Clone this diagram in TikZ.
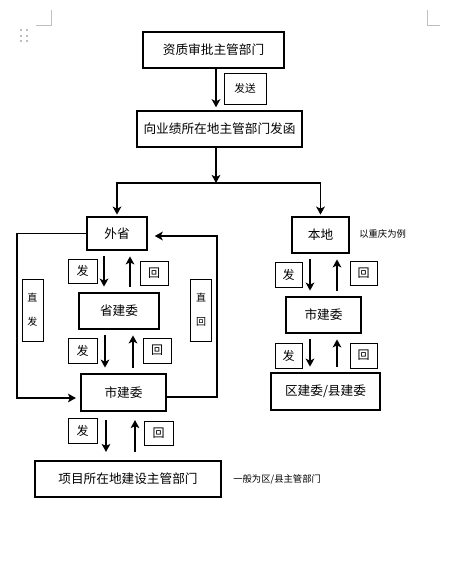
\documentclass[tikz,border=0pt]{standalone}
\usepackage{fontspec}
\setmainfont{Noto Sans CJK SC}
\usetikzlibrary{arrows.meta}
\definecolor{markgray}{RGB}{190,190,190}

\begin{document}
\begin{tikzpicture}[
    x=0.75pt, y=-0.75pt,
    box/.style 2 args={rectangle, draw, line width=1.6pt, inner sep=0pt,
                minimum width=#1*0.75pt, minimum height=#2*0.75pt,
                font=\fontsize{9.5}{11}\selectfont},
    tag/.style 2 args={rectangle, draw, line width=0.6pt, inner sep=0pt,
                minimum width=#1*0.75pt, minimum height=#2*0.75pt,
                font=\fontsize{9}{10}\selectfont},
    vtag/.style={tag={21}{62}, align=center,
                font=\fontsize{7.5}{18}\selectfont},
    note/.style={anchor=west, inner sep=0pt, font=\fontsize{7}{8}\selectfont},
    arr/.style={-{Stealth[length=6pt, width=6.5pt, inset=1.5pt]}, line width=1.3pt},
    pair/.style={arr, shorten <=4pt, shorten >=4pt}
]
\useasboundingbox (0,0) rectangle (455,561);

% page marks
\draw[markgray, line width=0.6pt] (36,25) -- (51,25) -- (51,10);
\draw[markgray, line width=0.6pt] (427,10) -- (427,25) -- (440,25);
\foreach \dx in {21,26.5}
  \foreach \dy in {30,35.5,41}
    \fill[markgray] (\dx-1,\dy-1) rectangle (\dx+1,\dy+1);

% Top chain
\node[box={141}{36}] (resp) at (213.5,50) {资质审批主管部门};
\node[tag={42}{31}, font=\fontsize{8}{9}\selectfont] (send) at (245,88.5) {发送};
\node[box={165}{36}] (letter) at (219.5,129) {向业绩所在地主管部门发函};
\coordinate (split) at (216,183);

% Left branch: other province
\node[box={60}{33}] (ws) at (117,233.5) {外省};
\node[box={80}{36}] (sjw) at (119,311) {省建委};
\node[box={85}{37}] (cjwL) at (123.5,392.5) {市建委};
\node[box={186}{36}] (proj) at (128,479) {项目所在地建设主管部门};
\node[note] (note2) at (233,479) {一般为区/县主管部门};

\node[tag={29}{24}] (fa1) at (82.5,271) {发};
\node[tag={28}{24}] (hui1) at (154,273) {回};
\node[tag={29}{25}] (fa2) at (82.5,350.5) {发};
\node[tag={28}{25}] (hui2) at (157,350.5) {回};
\node[tag={29}{25}] (fa3) at (82.5,430.5) {发};
\node[tag={29}{24}] (hui3) at (158.5,433) {回};
\node[vtag] (zf) at (32.5,310) {直\\发};
\node[vtag] (zh) at (201,310) {直\\回};

% Right branch: local (Chongqing)
\node[box={57}{36}] (bd) at (320.5,235) {本地};
\node[note] (note1) at (359,234) {以重庆为例};
\node[box={75}{36}] (cjwR) at (323.5,315) {市建委};
\node[box={109}{37}] (qjw) at (325.5,391.5) {区建委/县建委};

\node[tag={27}{25}] (fa4) at (288.5,274.5) {发};
\node[tag={27}{24}] (hui4) at (363.5,273) {回};
\node[tag={27}{25}] (fa5) at (288.5,355.5) {发};
\node[tag={27}{25}] (hui5) at (363.5,355.5) {回};

% connectors
\draw[arr, shorten >=2pt] (216,0 |- resp.south) -- (216,0 |- letter.north);
\draw[arr] (216,0 |- letter.south) -- (split);
\draw[arr, shorten >=1pt] (split) -| (ws.north);
\draw[arr, shorten >=1pt] (split) -| (bd.north);

\draw[pair] (104,0 |- ws.south) -- (104,0 |- sjw.north);
\draw[pair] (130,0 |- sjw.north) -- (130,0 |- ws.south);
\draw[pair] (105,0 |- sjw.south) -- (105,0 |- cjwL.north);
\draw[pair] (133,0 |- cjwL.north) -- (133,0 |- sjw.south);
\draw[pair, shorten <=6pt, shorten >=6pt] (106,0 |- cjwL.south) -- (106,0 |- proj.north);
\draw[pair, shorten <=6pt, shorten >=6pt] (135,0 |- proj.north) -- (135,0 |- cjwL.south);

\draw[arr, shorten >=3pt] (ws.west) -| (17,398) -- (cjwL.west |- 17,398);
\draw[arr, shorten >=5pt] (cjwL.east |- 0,397) -| (217,236) -- (ws.east |- 0,236);

\draw[pair] (310,0 |- bd.south) -- (310,0 |- cjwR.north);
\draw[pair] (337,0 |- cjwR.north) -- (337,0 |- bd.south);
\draw[pair] (310,0 |- cjwR.south) -- (310,0 |- qjw.north);
\draw[pair] (337,0 |- qjw.north) -- (337,0 |- cjwR.south);

\end{tikzpicture}
\end{document}
